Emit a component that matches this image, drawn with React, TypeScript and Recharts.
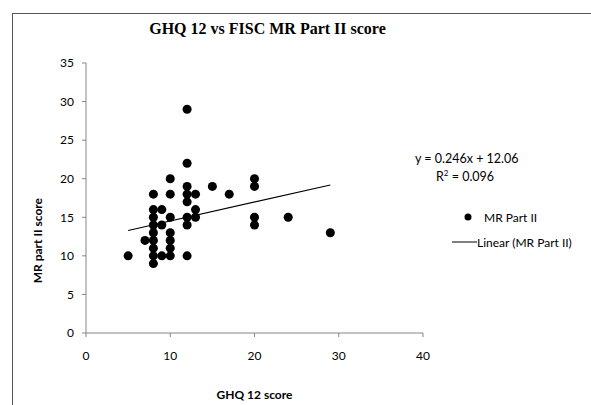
import React from 'react';
import {
  ScatterChart,
  Scatter,
  XAxis,
  YAxis,
  ZAxis,
} from 'recharts';

// GHQ 12 score (x) and MR Part II score (y)
const ghqScores = [5, 7, 8, 8, 8, 8, 8, 8, 8, 8, 8, 9, 9, 9, 10, 10, 10, 10, 10, 10, 10, 12, 12, 12, 12, 12, 12, 12, 12, 13, 13, 13, 15, 17, 20, 20, 20, 20, 24, 29];
const mrScores = [10, 12, 18, 16, 15, 14, 13, 12, 11, 10, 9, 16, 14, 10, 20, 18, 15, 13, 12, 11, 10, 29, 22, 19, 18, 17, 15, 14, 10, 18, 16, 15, 19, 18, 20, 19, 15, 14, 15, 13];

// ends of the Excel linear trend line (y = 0.246x + 12.06)
const trendX = [5, 29];
const trendY = [13.29, 19.19];

const xTicks = [0, 10, 20, 30, 40];
const yTicks = [0, 5, 10, 15, 20, 25, 30, 35];

const points = ghqScores.map((x, i) => ({ x, y: mrScores[i] }));
const trend = trendX.map((x, i) => ({ x, y: trendY[i] }));

const FONT = 'Lato, "Liberation Sans", sans-serif';

const App: React.FC = () => {
  return (
    <div style={{ position: 'absolute', left: 0, top: 0, width: 591, height: 405, background: '#fff', overflow: 'hidden' }}>
      {/* chart area frame */}
      <div style={{ position: 'absolute', left: 12, top: 13, width: 600, height: 420, border: '1px solid #555' }} />
      <div
        style={{
          position: 'absolute',
          left: 0,
          width: 535,
          top: 20,
          textAlign: 'center',
          fontFamily: '"Liberation Serif", "DejaVu Serif", serif',
          fontWeight: 'bold',
          fontSize: 16,
          color: '#000',
        }}
      >
        GHQ 12 vs FISC MR Part II score
      </div>
      <div style={{ position: 'absolute', left: 415, top: 151, fontFamily: FONT, fontSize: 12.5, color: '#000', lineHeight: '15px' }}>
        <div>y = 0.246x + 12.06</div>
        <div style={{ marginLeft: 21 }}>
          R<sup style={{ fontSize: 8 }}>2</sup> = 0.096
        </div>
      </div>
      {/* legend */}
      <div style={{ position: 'absolute', left: 446, top: 208, fontFamily: FONT, fontSize: 12, color: '#000' }}>
        <div style={{ display: 'flex', alignItems: 'center', height: 18 }}>
          <svg width={30} height={10}>
            <circle cx={22} cy={5} r={3.5} fill="#000" />
          </svg>
          <span style={{ marginLeft: 8 }}>MR Part II</span>
        </div>
        <div style={{ display: 'flex', alignItems: 'center', height: 18, marginTop: 7 }}>
          <svg width={31} height={10}>
            <line x1={6} y1={5} x2={31} y2={5} stroke="#000" strokeWidth={1} />
          </svg>
          <span>Linear (MR Part II)</span>
        </div>
      </div>
      <ScatterChart width={591} height={405} margin={{ top: 63, right: 168, bottom: 42, left: 56 }} style={{ position: 'absolute', left: 0, top: 0 }}>
        <XAxis
          type="number"
          dataKey="x"
          domain={[0, 40]}
          ticks={xTicks}
          stroke="#868686"
          tick={{ fill: '#000', fontSize: 12, fontFamily: FONT }}
          tickSize={4}
          tickMargin={14}
          height={30}
          label={{ value: 'GHQ 12 score', position: 'insideBottom', offset: -36, fill: '#000', fontSize: 12, fontWeight: 'bold', fontFamily: FONT }}
        />
        <YAxis
          type="number"
          dataKey="y"
          domain={[0, 35]}
          ticks={yTicks}
          stroke="#868686"
          tick={{ fill: '#000', fontSize: 12, fontFamily: FONT }}
          tickSize={4}
          tickMargin={8}
          width={30}
          label={{ value: 'MR part II score', angle: -90, position: 'left', offset: 18, fill: '#000', fontSize: 12, fontWeight: 'bold', fontFamily: FONT }}
        />
        <ZAxis range={[36, 36]} />
        <Scatter name="MR Part II" data={points} fill="#000" isAnimationActive={false} />
        <Scatter
          name="Linear (MR Part II)"
          data={trend}
          line={{ stroke: '#000', strokeWidth: 1.2 }}
          shape={() => null}
          isAnimationActive={false}
        />
      </ScatterChart>
    </div>
  );
};

export default App;
